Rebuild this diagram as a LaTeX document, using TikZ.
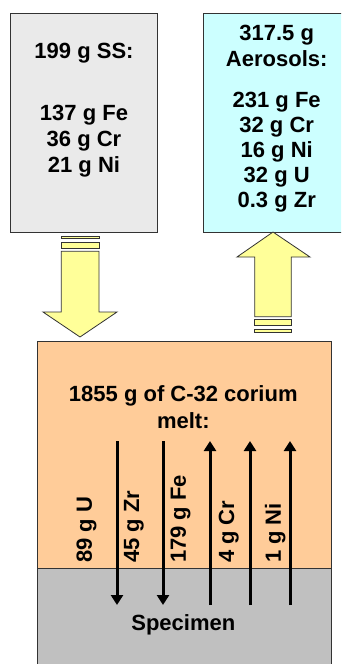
\documentclass[tikz,border=0pt]{standalone}
\usepackage{fontspec}
\setmainfont{Liberation Sans}
\usetikzlibrary{arrows.meta}
\definecolor{ssgray}{HTML}{EAEAEA}
\definecolor{aerocyan}{HTML}{CCFFFF}
\definecolor{flowyellow}{HTML}{FFFF99}
\definecolor{meltorange}{HTML}{FFCC99}
\definecolor{specgray}{HTML}{C0C0C0}
\definecolor{edge}{HTML}{333333}
\tikzset{
  lbl/.style={inner sep=0pt, align=center},
  flux/.style={line width=3pt, -{Triangle[width=12pt,length=10pt]}},
  vlbl/.style={inner sep=0pt, rotate=90, anchor=base west}
}

\begin{document}
\begin{tikzpicture}[x=1pt, y=-1pt, line width=0.8pt, font=\fontsize{22}{25}\selectfont\bfseries]
\useasboundingbox (0,0) rectangle (341,664);
\clip (0,0) rectangle (341,664);
% stainless steel box
\draw[draw=edge, fill=ssgray] (10,13) rectangle (157,232);
\node[lbl] (sshead) at (84,52.7) {199 g SS:};
\node[lbl, font=\fontsize{22}{26}\selectfont\bfseries] (sscomp) at (84,141) {137 g Fe\\36 g Cr\\21 g Ni};
% aerosol box
\draw[draw=edge, fill=aerocyan] (203,13) rectangle (350,232);
\node[lbl, font=\fontsize{22}{26.3}\selectfont\bfseries] (aerohead) at (276.7,46) {317.5 g\\Aerosols:};
\node[lbl] (aerocomp) at (276.7,152.6) {231 g Fe\\32 g Cr\\16 g Ni\\32 g U\\0.3 g Zr};
% block arrow down (SS into melt)
\draw[draw=edge, fill=flowyellow] (61.3,236) rectangle (99,238.7);
\draw[draw=edge, fill=flowyellow] (61.3,242) rectangle (99,248.7);
\draw[draw=edge, fill=flowyellow] (61.3,251.3) -- (99,251.3) -- (99,312) -- (117,312)
  -- (80,337) -- (43,312) -- (61.3,312) -- cycle;
% block arrow up (melt to aerosols)
\draw[draw=edge, fill=flowyellow] (254.7,316.7) -- (254.7,257) -- (237,257) -- (273,232)
  -- (310,257) -- (291.3,257) -- (291.3,316.7) -- cycle;
\draw[draw=edge, fill=flowyellow] (254.7,319.3) rectangle (291.3,325.7);
\draw[draw=edge, fill=flowyellow] (254.7,329) rectangle (291.3,332.3);
% melt and specimen
\draw[draw=edge, fill=meltorange] (37,341) rectangle (331,568);
\draw[draw=edge, fill=specgray] (37,568) rectangle (331,680);
\node[lbl, font=\fontsize{22}{26.6}\selectfont\bfseries] (melt) at (183.3,407.1) {1855 g of C-32 corium\\melt:};
\node[lbl] (spec) at (183.3,624.4) {Specimen};
% element fluxes
\draw[flux] (117,441) -- (117,605);
\draw[flux] (163,441) -- (163,605);
\draw[flux] (210,605) -- (210,441);
\draw[flux] (250,605) -- (250,441);
\draw[flux] (290,605) -- (290,441);
\node[vlbl] (fluxU) at (91.8,563.3) {89 g U};
\node[vlbl] (fluxZr) at (139.1,563.3) {45 g Zr};
\node[vlbl] (fluxFe) at (185.8,563.3) {179 g Fe};
\node[vlbl] (fluxCr) at (234.1,563.3) {4 g Cr};
\node[vlbl] (fluxNi) at (280.8,563.3) {1 g Ni};
\end{tikzpicture}
\end{document}
